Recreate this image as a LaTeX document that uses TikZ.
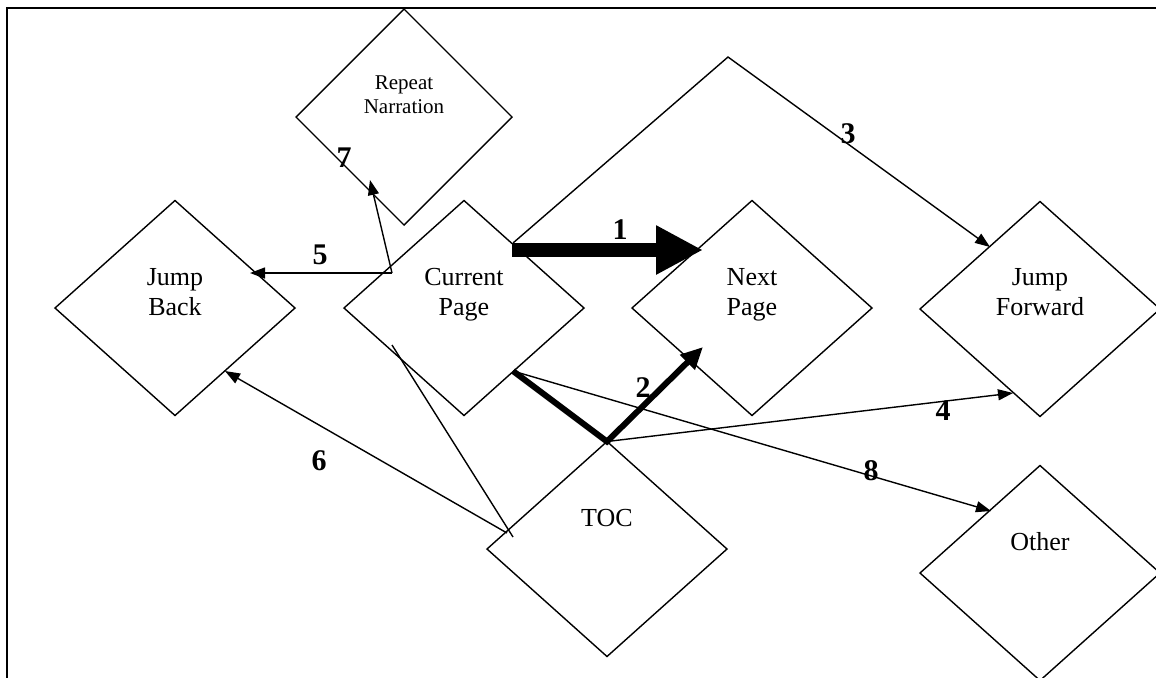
\documentclass[tikz,border=0pt]{standalone}
\usepackage{fontspec}
\setmainfont{Liberation Serif}
\usetikzlibrary{shapes.geometric,arrows.meta,calc}
\tikzset{
  dia/.style={draw, diamond, inner sep=0pt, outer sep=0pt, line width=0.7pt,
    minimum width=120pt, minimum height=107.5pt},
  lbl/.style={font=\fontsize{13}{15}\selectfont, align=center, inner sep=0pt, anchor=base},
  slbl/.style={font=\fontsize{10.5}{12}\selectfont, align=center, inner sep=0pt, anchor=base},
  num/.style={font=\bfseries\fontsize{15}{15}\selectfont, inner sep=0pt},
  arr/.style={line width=0.7pt, -{Triangle[length=7.5pt,width=5.5pt]}},
  plain/.style={line width=0.7pt},
  bigarr/.style={line width=7pt, -{Triangle[length=23.5pt,width=23pt]}},
  medarr/.style={line width=3pt, line join=miter, -{Triangle[length=11pt,width=10pt]}},
}
\begin{document}
\begin{tikzpicture}[x=0.5pt,y=-0.5pt]
\useasboundingbox (0,0) rectangle (1156,677);
\draw[line width=1pt] (7,8) rectangle (1180,700);

% diamonds
\node[dia, minimum width=108pt, minimum height=108pt] (rn) at (404,117) {};
\node[dia] (jb) at (175,308) {};
\node[dia] (cp) at (464,308) {};
\node[dia] (np) at (752,308) {};
\node[dia] (jf) at (1040,309) {};
\node[dia] (toc) at (607,549) {};
\node[dia] (ot) at (1040,573) {};

% texts (anchor=base is the baseline of the last line)
\node[slbl] (rn-t) at ($(rn.center)+(0,-4)$) {Repeat\\Narration};
\node[lbl] (jb-t) at ($(jb.center)+(0,7)$) {Jump\\Back};
\node[lbl] (cp-t) at ($(cp.center)+(0,7)$) {Current\\Page};
\node[lbl] (np-t) at ($(np.center)+(0,7)$) {Next\\Page};
\node[lbl] (jf-t) at ($(jf.center)+(0,6)$) {Jump\\Forward};
\node[lbl] (toc-t) at ($(toc.center)+(0,-23)$) {TOC};
\node[lbl] (ot-t) at ($(ot.center)+(0,-23)$) {Other};

% connectors
\coordinate (peak) at (728,57);
\draw[arr] ($(cp.center)+(49,-65)$) -- (peak) -- ($(jf.center)+(-50,-62)$);
\draw[bigarr] ($(cp.center)+(48,-58)$) -- ($(np.center)+(-49,-58)$);
\draw[medarr] ($(cp.center)+(49,63)$) -- (toc.north) -- ($(np.center)+(-49,39)$);
\draw[arr] (toc.north) -- ($(jf.center)+(-27,84)$);
\draw[arr] ($(cp.center)+(-72,-35)$) -- ($(jb.center)+(75,-35)$);
\draw[arr] ($(cp.center)+(-72,-35)$) -- ($(rn.center)+(-34,63)$);
\draw[arr] ($(toc.center)+(-100,-16)$) -- ($(jb.center)+(50,63)$);
\draw[plain] ($(cp.center)+(-72,37)$) -- ($(toc.center)+(-94,-12)$);
\draw[arr] ($(cp.center)+(49,63)$) -- ($(ot.center)+(-49,-62)$);

% numbers
\node[num] (n1) at (620,230) {1};
\node[num] (n2) at (643,388) {2};
\node[num] (n3) at (848,134) {3};
\node[num] (n4) at (943,411) {4};
\node[num] (n5) at (320,255) {5};
\node[num] (n6) at (319,461) {6};
\node[num] (n7) at (344,158) {7};
\node[num] (n8) at (871,471) {8};
\end{tikzpicture}
\end{document}
